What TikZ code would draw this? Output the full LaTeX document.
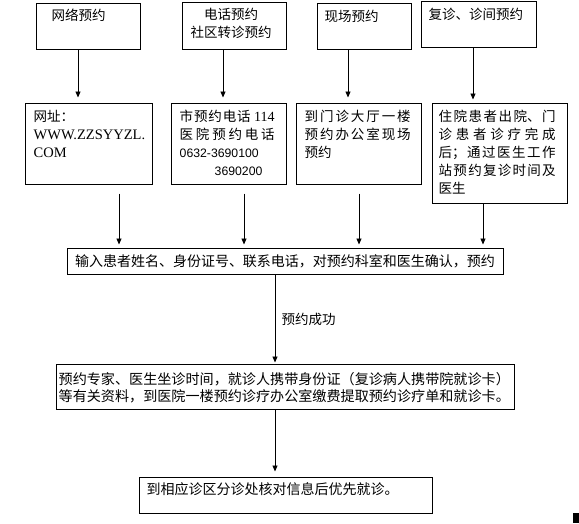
\documentclass[tikz,border=0pt]{standalone}
\usepackage{fontspec}
\setmainfont{Noto Sans CJK SC}
\newfontfamily\serifl{Liberation Serif}
\newfontfamily\sansl{Liberation Sans}
\usepackage{tikz}
\usetikzlibrary{positioning, arrows.meta}
\XeTeXlinebreaklocale "zh"
\XeTeXlinebreakskip=0pt plus 3pt

\begin{document}
\begin{tikzpicture}[
        x=1pt, y=-1pt,
        font=\fontsize{13.5}{18}\selectfont,
        box/.style={draw, line width=1pt, inner sep=0pt},
        txt/.style={inner sep=0pt, anchor=base west, align=left},
        para/.style={inner sep=0pt, anchor=base west, align=justify, text width=#1},
        flow/.style={-{Triangle[length=6pt,width=5pt]}, line width=0.8pt, shorten >=3pt}
    ]
        \useasboundingbox (0,0) rectangle (579,523);

        % ways to book
        \node[box, minimum width=104pt, minimum height=46pt] (web) at (88,26) {};
        \node[box, minimum width=104pt, minimum height=47pt] (phone) at (234,25.5) {};
        \node[box, minimum width=94pt, minimum height=46pt] (site) at (364,26) {};
        \node[box, minimum width=115pt, minimum height=46pt] (revisit) at (478.5,24) {};

        \node[txt] (webt) at ([xshift=16pt,yshift=-18pt]web.north west) {网络预约};
        \node[inner sep=0pt, align=center, anchor=base] (phonet)
            at ([xshift=-3pt,yshift=-36pt]phone.north) {电话预约\\社区转诊预约};
        \node[txt] (sitet) at ([xshift=8pt,yshift=-19pt]site.north west) {现场预约};
        \node[txt] (revisitt) at ([xshift=8pt,yshift=-19pt]revisit.north west) {复诊、诊间预约};

        % details
        \node[box, minimum width=127pt, minimum height=81pt] (addr) at (88.5,143.5) {};
        \node[box, minimum width=115pt, minimum height=81pt] (tel) at (228.5,143.5) {};
        \node[box, minimum width=125pt, minimum height=81pt] (desk) at (358.5,143.5) {};
        \node[box, minimum width=135pt, minimum height=100pt] (follow) at (499.5,153) {};

        \node[para=116pt, align=left] (addrt) at ([xshift=9pt,yshift=-19pt]addr.north west)
            {网址：\\{\serifl\fontsize{14.5}{18}\selectfont WWW.ZZSYYZL.}\\{\serifl\fontsize{14.5}{18}\selectfont COM}};
        \node[para=95pt] (telt) at ([xshift=9pt,yshift=-19pt]tel.north west)
            {市预约电话 {\serifl\fontsize{14}{18}\selectfont 114}\linebreak
             医院预约电话\linebreak
             {\sansl\fontsize{12.25}{18}\selectfont 0632-3690100}\\
             \hspace*{35pt}{\sansl\fontsize{12.25}{18}\selectfont 3690200}};
        \node[para=106pt] (deskt) at ([xshift=9pt,yshift=-19pt]desk.north west)
            {到门诊大厅一楼\linebreak 预约办公室现场\linebreak 预约};
        \node[para=117pt] (followt) at ([xshift=7pt,yshift=-19pt]follow.north west)
            {住院患者出院、门\linebreak 诊患者诊疗完成\linebreak 后；通过医生工作\linebreak 站预约复诊时间及\linebreak 医生};

        % common steps
        \node[box, minimum width=436pt, minimum height=26pt, font=\fontsize{14}{18}\selectfont] (input) at (285,261)
            {输入患者姓名、身份证号、联系电话，对预约科室和医生确认，预约};
        \node[box, minimum width=458pt, minimum height=45pt] (fetch) at (285,386.5) {};
        \node[para=452pt, align=left, font=\fontsize{14.1}{17}\selectfont] (fetcht)
            at ([xshift=3pt,yshift=-21pt]fetch.north west)
            {预约专家、医生坐诊时间，就诊人携带身份证（复诊病人携带院就诊卡）\\
             等有关资料，到医院一楼预约诊疗办公室缴费提取预约诊疗单和就诊卡。};
        \node[box, minimum width=293pt, minimum height=36pt] (visit) at (285.5,495) {};
        \node[txt, font=\fontsize{14}{18}\selectfont] (visitt) at ([xshift=8pt,yshift=-18pt]visit.north west)
            {到相应诊区分诊处核对信息后优先就诊。};

        % arrows
        \draw[flow, shorten >=5pt] ([xshift=-10pt]web.south) -- ([xshift=-10pt]web.south |- addr.north);
        \draw[flow, shorten >=5pt] ([xshift=-11pt]phone.south) -- ([xshift=-11pt]phone.south |- tel.north);
        \draw[flow, shorten >=5pt] ([xshift=-16pt]site.south) -- ([xshift=-16pt]site.south |- desk.north);
        \draw[flow, shorten >=3pt] ([xshift=-5.5pt]revisit.south) -- ([xshift=-5.5pt]revisit.south |- follow.north);

        \draw[flow, shorten <=9pt] ([xshift=30.5pt]addr.south) -- ([xshift=30.5pt]addr.south |- input.north);
        \draw[flow, shorten <=9pt] ([xshift=15.5pt]tel.south) -- ([xshift=15.5pt]tel.south |- input.north);
        \draw[flow, shorten <=9pt] ([xshift=0.5pt]desk.south) -- ([xshift=0.5pt]desk.south |- input.north);
        \draw[flow] ([xshift=-16.5pt]follow.south) -- ([xshift=-16.5pt]follow.south |- input.north);

        \draw[flow, shorten >=1pt] ([xshift=-10pt]input.south) -- node[right=3pt] (done) {预约成功}
            ([xshift=-10pt]input.south |- fetch.north);
        \draw[flow, shorten >=5pt] ([xshift=-10pt]fetch.south) -- ([xshift=-10pt]fetch.south |- visit.north);

        \fill (573,513) rectangle (579,523);
    \end{tikzpicture}
\end{document}
